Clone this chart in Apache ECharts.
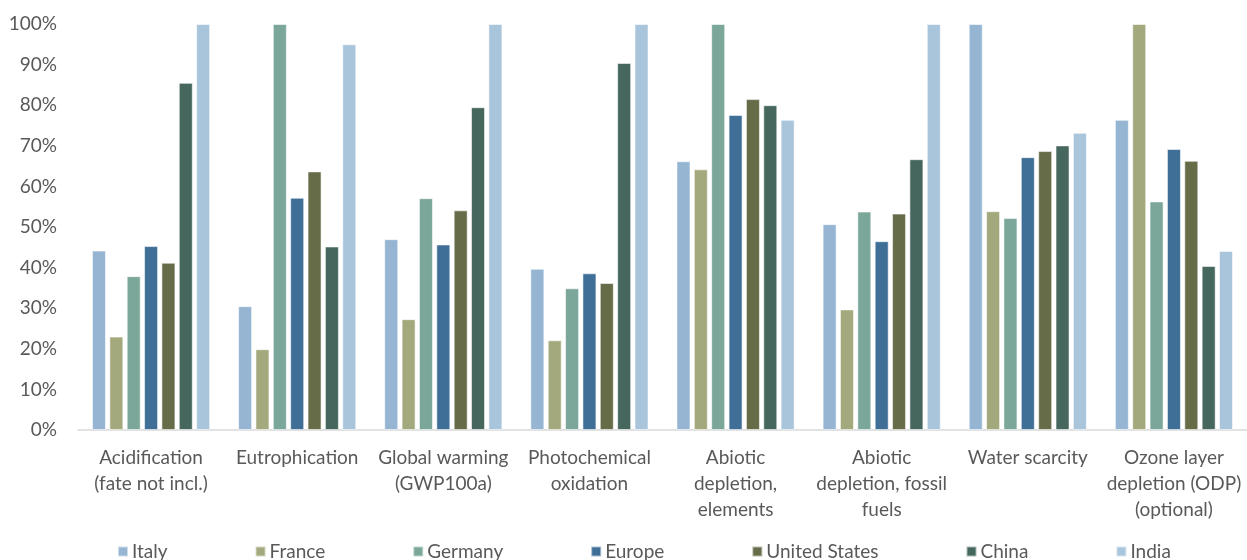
<!DOCTYPE html>
<html>
<head>
<meta charset="utf-8">
<title>Normalised impact categories by country</title>
<script src="https://cdn.jsdelivr.net/npm/echarts@6/dist/echarts.min.js"></script>
<style>
  html, body { margin: 0; padding: 0; background: #ffffff; }
  #chart { width: 1247px; height: 560px; }
</style>
</head>
<body>
<div id="chart"></div>
<script>
// Impact categories (axis labels, with their line breaks)
const categories = [
  'Acidification\n(fate not incl.)',
  'Eutrophication',
  'Global warming\n(GWP100a)',
  'Photochemical\noxidation',
  'Abiotic\ndepletion,\nelements',
  'Abiotic\ndepletion, fossil\nfuels',
  'Water scarcity',
  'Ozone layer\ndepletion (ODP)\n(optional)'
];

// Relative scores (% of the highest country in each category)
const italy        = [44.2, 30.5, 47.0, 39.7, 66.2, 50.7, 100, 76.4];
const france       = [23.0, 19.9, 27.3, 22.1, 64.2, 29.7, 53.9, 100];
const germany      = [37.9, 100, 57.1, 34.9, 100, 53.8, 52.2, 56.3];
const europe       = [45.3, 57.2, 45.7, 38.6, 77.6, 46.5, 67.2, 69.2];
const unitedStates = [41.2, 63.7, 54.1, 36.2, 81.5, 53.3, 68.7, 66.3];
const china        = [85.5, 45.2, 79.5, 90.4, 80.0, 66.7, 70.1, 40.4];
const india        = [100, 95.0, 100, 100, 76.4, 100, 73.2, 44.1];

const yTicks = { min: 0, max: 100, step: 10 };

const seriesDefs = [
  { name: 'Italy',         values: italy,        color: '#95B5D3' },
  { name: 'France',        values: france,       color: '#A4A97D' },
  { name: 'Germany',       values: germany,      color: '#7BA69A' },
  { name: 'Europe',        values: europe,       color: '#3F6E97' },
  { name: 'United States', values: unitedStates, color: '#666C48' },
  { name: 'China',         values: china,        color: '#46675E' },
  { name: 'India',         values: india,        color: '#A9C5DC' }
];

const FONT = 'Lato, "Open Sans", sans-serif';
const TEXT = '#595959';

const chart = echarts.init(document.getElementById('chart'), null, { renderer: 'canvas' });

chart.setOption({
  animation: false,
  backgroundColor: '#ffffff',
  textStyle: { fontFamily: FONT },
  grid: { left: 78, right: 0, top: 24, bottom: 130, containLabel: false },
  legend: {
    data: seriesDefs.map(s => s.name),
    left: 117,
    top: 542,
    padding: 0,
    icon: 'rect',
    itemWidth: 10,
    itemHeight: 10,
    itemGap: 87,
    textStyle: { fontFamily: FONT, fontSize: 19, color: TEXT, padding: [0, 0, 0, -1] }
  },
  xAxis: {
    type: 'category',
    data: categories,
    axisTick: { show: false },
    axisLine: { lineStyle: { color: '#D9D9D9', width: 1.5 } },
    axisLabel: {
      interval: 0,
      margin: 15,
      fontFamily: FONT,
      fontSize: 19,
      lineHeight: 26,
      color: TEXT,
      align: 'center'
    }
  },
  yAxis: {
    type: 'value',
    min: yTicks.min,
    max: yTicks.max,
    interval: yTicks.step,
    splitLine: { show: false },
    axisLine: { show: false },
    axisTick: { show: false },
    axisLabel: {
      formatter: '{value}%',
      margin: 21,
      fontFamily: FONT,
      fontSize: 19,
      color: TEXT
    }
  },
  series: seriesDefs.map(s => ({
    name: s.name,
    type: 'bar',
    data: s.values,
    barWidth: 14,
    barGap: '24%',
    itemStyle: {
      color: s.color,
      borderColor: 'rgba(255,255,255,0.55)',
      borderWidth: 1
    }
  }))
});
</script>
</body>
</html>
